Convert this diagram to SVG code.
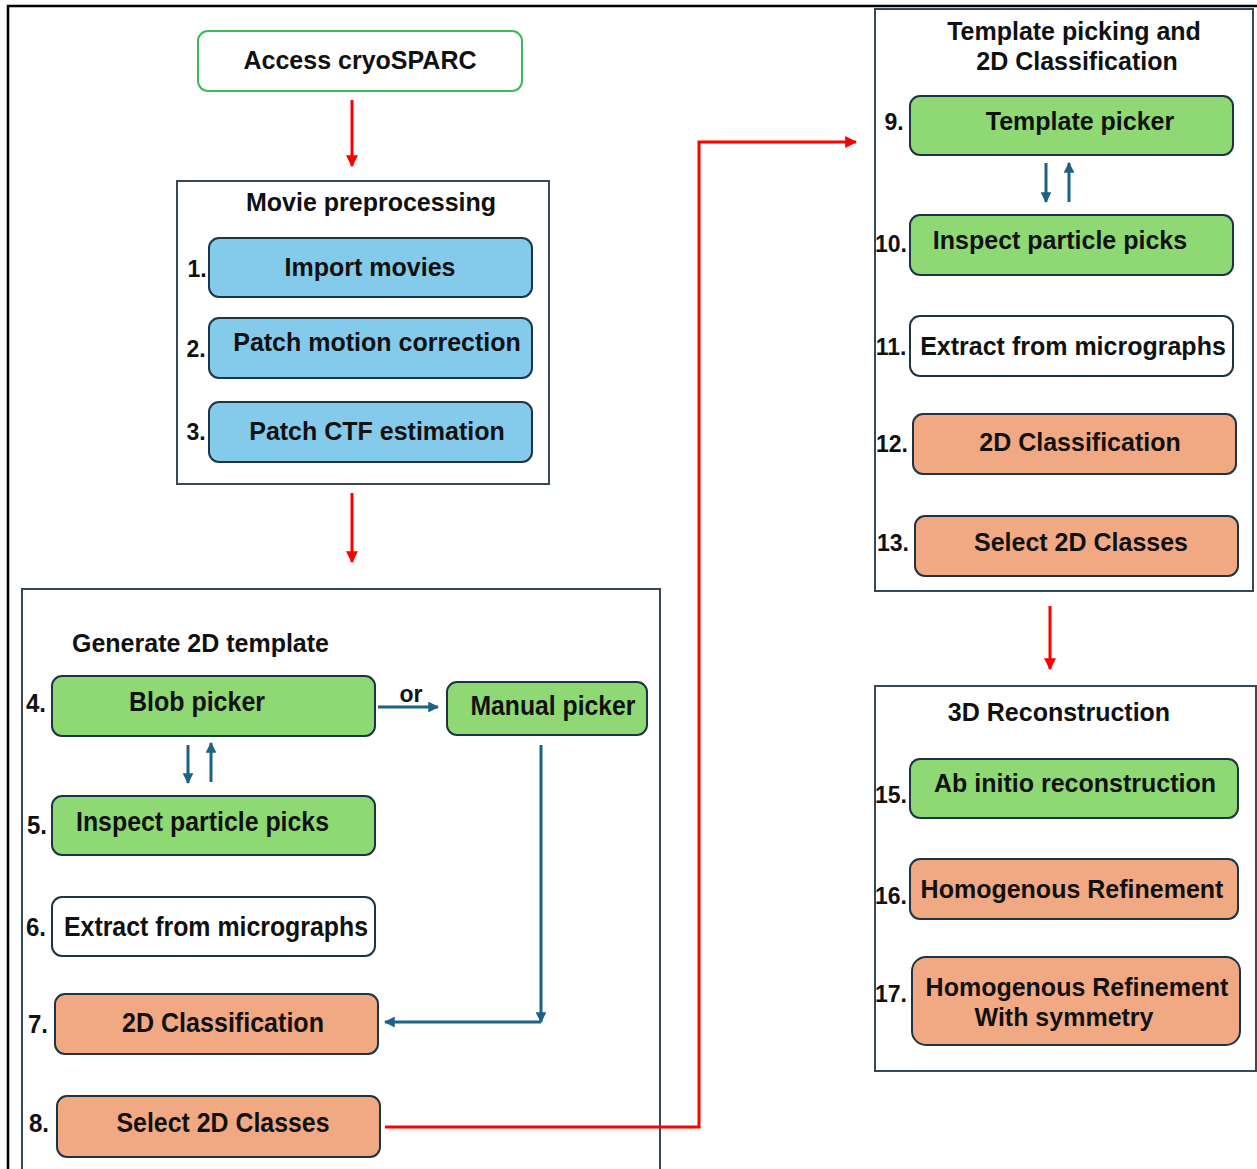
<svg xmlns="http://www.w3.org/2000/svg" width="1257" height="1169" viewBox="0 0 1257 1169">
<defs>
<style>
text{font-family:"Liberation Sans",Arial,sans-serif;font-weight:bold;fill:#111;}
.t{font-size:25px;text-anchor:middle;}
.n{font-size:23px;text-anchor:middle;}
.c{font-size:27px;text-anchor:middle;}
.cn{font-size:25px;text-anchor:middle;}
.frame{fill:none;stroke:#34495a;stroke-width:2;}
.box{stroke:#1d3447;stroke-width:2;}
.blue{fill:#83caeb;}
.green{fill:#8ed973;}
.orange{fill:#f1a983;}
.white{fill:#fff;}
.red{stroke:#ff0000;stroke-width:3;fill:none;}
.tl{stroke:#1b6286;stroke-width:3;fill:none;}
</style>
<marker id="ar" viewBox="0 0 10 10" refX="9" refY="5" markerWidth="4" markerHeight="4" orient="auto"><path d="M0,0L10,5L0,10z" fill="#ff0000"/></marker>
<marker id="at" viewBox="0 0 10 10" refX="9" refY="5" markerWidth="3.6" markerHeight="3.6" orient="auto"><path d="M0,0L10,5L0,10z" fill="#1b6286"/></marker>
</defs>
<rect width="1257" height="1169" fill="#fff"/>
<path d="M8,1169V6H1257" fill="none" stroke="#000" stroke-width="2.5"/>

<g id="access">
<rect x="198" y="31" width="324" height="60" rx="10" fill="#fff" stroke="#3cb95a" stroke-width="2"/>
<text class="t" x="360" y="69">Access cryoSPARC</text>
</g>

<g id="movie-preprocessing">
<rect class="frame" x="177" y="181" width="372" height="303"/>
<text class="t" x="371" y="211">Movie preprocessing</text>
</g>
<g id="n1">
<rect class="box blue" x="209" y="238" width="323" height="59" rx="10"/>
<text class="t" x="370" y="276">Import movies</text>
<text class="n" x="197" y="277">1.</text>
</g>
<g id="n2">
<rect class="box blue" x="209" y="318" width="323" height="60" rx="10"/>
<text class="t" x="377" y="351">Patch motion correction</text>
<text class="n" x="196" y="357">2.</text>
</g>
<g id="n3">
<rect class="box blue" x="209" y="402" width="323" height="60" rx="10"/>
<text class="t" x="377" y="440">Patch CTF estimation</text>
<text class="n" x="196" y="440">3.</text>
</g>

<g id="generate-2d-template">
<rect class="frame" x="22" y="589" width="638" height="600"/>
<text x="72" y="652" style="font-size:25px" textLength="257" lengthAdjust="spacingAndGlyphs">Generate 2D template</text>
</g>
<g id="n4">
<rect class="box green" x="52" y="676" width="323" height="60" rx="10"/>
<text class="c" x="197" y="711" textLength="136" lengthAdjust="spacingAndGlyphs">Blob picker</text>
<text class="cn" x="36" y="712" textLength="20" lengthAdjust="spacingAndGlyphs">4.</text>
</g>
<g id="manual">
<rect class="box green" x="447" y="682" width="200" height="53" rx="10"/>
<text class="c" x="553" y="715" textLength="165" lengthAdjust="spacingAndGlyphs">Manual picker</text>
</g>
<g id="n5">
<rect class="box green" x="52" y="796" width="323" height="59" rx="10"/>
<text x="76" y="831" style="font-size:27px" textLength="253" lengthAdjust="spacingAndGlyphs">Inspect particle picks</text>
<text class="cn" x="37" y="834" textLength="20" lengthAdjust="spacingAndGlyphs">5.</text>
</g>
<g id="n6">
<rect class="box white" x="52" y="897" width="323" height="59" rx="10"/>
<text x="64" y="936" style="font-size:27px" textLength="304" lengthAdjust="spacingAndGlyphs">Extract from micrographs</text>
<text class="cn" x="36" y="936" textLength="20" lengthAdjust="spacingAndGlyphs">6.</text>
</g>
<g id="n7">
<rect class="box orange" x="55" y="994" width="323" height="60" rx="10"/>
<text class="c" x="223" y="1032" textLength="202" lengthAdjust="spacingAndGlyphs">2D Classification</text>
<text class="cn" x="38" y="1033" textLength="20" lengthAdjust="spacingAndGlyphs">7.</text>
</g>
<g id="n8">
<rect class="box orange" x="57" y="1096" width="323" height="61" rx="10"/>
<text class="c" x="223" y="1132" textLength="213" lengthAdjust="spacingAndGlyphs">Select 2D Classes</text>
<text class="cn" x="39" y="1132" textLength="20" lengthAdjust="spacingAndGlyphs">8.</text>
</g>

<g id="template-picking">
<rect class="frame" x="875" y="9" width="378" height="582"/>
<text class="t" x="1074" y="40">Template picking and</text>
<text class="t" x="1077" y="70">2D Classification</text>
</g>
<g id="n9">
<rect class="box green" x="910" y="96" width="323" height="59" rx="10"/>
<text class="t" x="1080" y="130">Template picker</text>
<text class="n" x="894" y="130">9.</text>
</g>
<g id="n10">
<rect class="box green" x="910" y="215" width="323" height="60" rx="10"/>
<text class="t" x="1060" y="249">Inspect particle picks</text>
<text class="n" x="891" y="252">10.</text>
</g>
<g id="n11">
<rect class="box white" x="910" y="316" width="323" height="60" rx="10"/>
<text class="t" x="1073" y="355">Extract from micrographs</text>
<text class="n" x="891" y="355">11.</text>
</g>
<g id="n12">
<rect class="box orange" x="913" y="414" width="323" height="60" rx="10"/>
<text class="t" x="1080" y="451">2D Classification</text>
<text class="n" x="892" y="452">12.</text>
</g>
<g id="n13">
<rect class="box orange" x="915" y="516" width="323" height="60" rx="10"/>
<text class="t" x="1081" y="551">Select 2D Classes</text>
<text class="n" x="893" y="551">13.</text>
</g>

<g id="reconstruction-3d">
<rect class="frame" x="875" y="686" width="381" height="385"/>
<text class="t" x="1059" y="721">3D Reconstruction</text>
</g>
<g id="n15">
<rect class="box green" x="910" y="759" width="328" height="59" rx="10"/>
<text class="t" x="1075" y="792">Ab initio reconstruction</text>
<text class="n" x="891" y="803">15.</text>
</g>
<g id="n16">
<rect class="box orange" x="910" y="859" width="328" height="60" rx="10"/>
<text class="t" x="1072" y="898">Homogenous Refinement</text>
<text class="n" x="891" y="904">16.</text>
</g>
<g id="n17">
<rect class="box orange" x="912" y="957" width="328" height="88" rx="14"/>
<text class="t" x="1077" y="996">Homogenous Refinement</text>
<text class="t" x="1064" y="1026">With symmetry</text>
<text class="n" x="891" y="1002">17.</text>
</g>

<g id="connectors">
<line class="red" x1="352" y1="100" x2="352" y2="166" marker-end="url(#ar)"/>
<line class="red" x1="352" y1="493" x2="352" y2="562" marker-end="url(#ar)"/>
<path class="red" d="M385,1127H699V142H856" marker-end="url(#ar)"/>
<line class="red" x1="1050" y1="606" x2="1050" y2="669" marker-end="url(#ar)"/>
<line class="tl" x1="378" y1="707" x2="438" y2="707" marker-end="url(#at)"/>
<text x="411" y="702" style="font-size:23px;text-anchor:middle">or</text>
<line class="tl" x1="188" y1="745" x2="188" y2="783" marker-end="url(#at)"/>
<line class="tl" x1="211" y1="782" x2="211" y2="743" marker-end="url(#at)"/>
<line class="tl" x1="1046" y1="163" x2="1046" y2="202" marker-end="url(#at)"/>
<line class="tl" x1="1069" y1="202" x2="1069" y2="163" marker-end="url(#at)"/>
<line class="tl" x1="541" y1="745" x2="541" y2="1022" marker-end="url(#at)"/>
<path class="tl" d="M541,1022H385" marker-end="url(#at)"/>
</g>
</svg>
